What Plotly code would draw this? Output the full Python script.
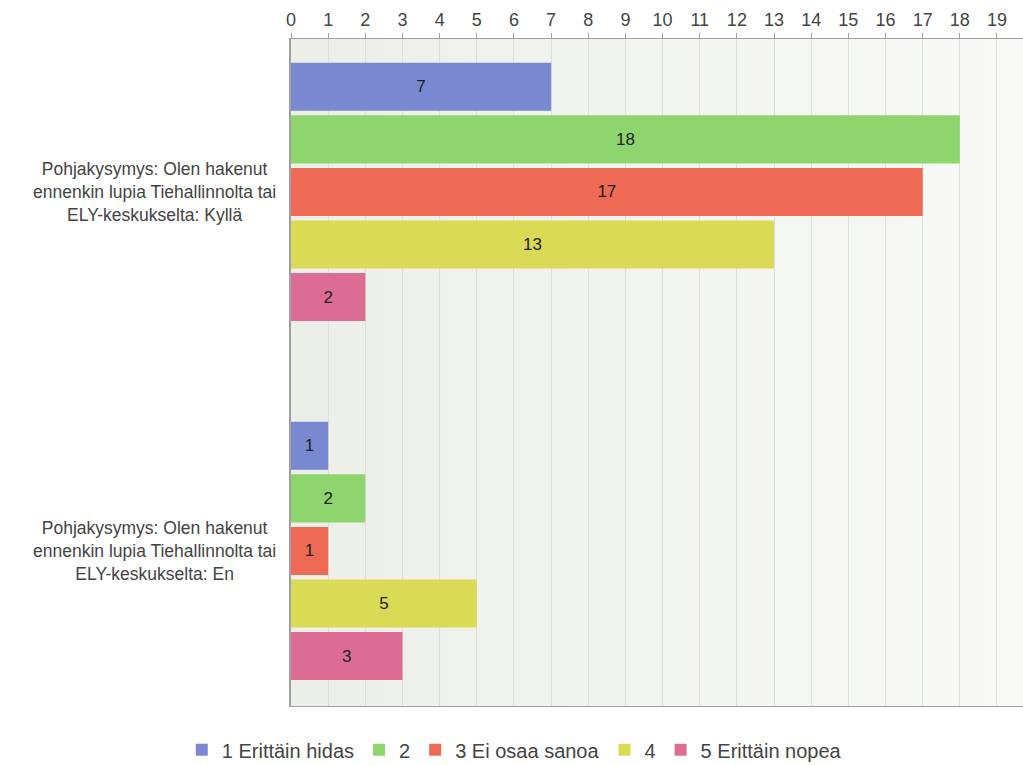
import base64
import struct
import zlib

import plotly.graph_objects as go

categories = [
    "Pohjakysymys: Olen hakenut<br>ennenkin lupia Tiehallinnolta tai<br>ELY-keskukselta: Kyllä",
    "Pohjakysymys: Olen hakenut<br>ennenkin lupia Tiehallinnolta tai<br>ELY-keskukselta: En",
]
series_names = ["1 Erittäin hidas", "2", "3 Ei osaa sanoa", "4", "5 Erittäin nopea"]
series_values = [
    [7, 1],
    [18, 2],
    [17, 1],
    [13, 5],
    [2, 3],
]
series_colors = ["#7889d2", "#8fd56d", "#ee6a55", "#dada55", "#dc6c94"]
tick_values = list(range(0, 20))

FONT = "Liberation Sans, Arial, sans-serif"


def gradient_png(c0, c1, n=128):
    row = b"\x00" + b"".join(
        bytes(int(round(a + (b - a) * i / (n - 1))) for a, b in zip(c0, c1)) for i in range(n)
    )
    def chunk(t, d):
        return struct.pack(">I", len(d)) + t + d + struct.pack(">I", zlib.crc32(t + d) & 0xffffffff)
    png = b"\x89PNG\r\n\x1a\n" + chunk(b"IHDR", struct.pack(">IIBBBBB", n, 1, 8, 2, 0, 0, 0))
    png += chunk(b"IDAT", zlib.compress(row)) + chunk(b"IEND", b"")
    return "data:image/png;base64," + base64.b64encode(png).decode()


fig = go.Figure()
for name, vals, col in zip(series_names, series_values, series_colors):
    fig.add_trace(go.Bar(
        y=categories, x=vals, name=name, orientation="h",
        marker=dict(color=col, line=dict(width=0)),
        text=[str(v) for v in vals], textposition="inside",
        insidetextanchor="middle", textangle=0,
        textfont=dict(family=FONT, size=17, color="#222222"),
        hoverinfo="x+name",
    ))

for cat in categories:
    fig.add_annotation(
        x=0, xref="paper", y=cat, yref="y", text=cat, showarrow=False,
        xanchor="right", yanchor="middle", align="center", xshift=-13,
        font=dict(family=FONT, size=17.5, color="#444444"),
    )

fig.add_layout_image(
    source=gradient_png((236, 239, 232), (248, 249, 246)),
    xref="paper", yref="paper", x=0, y=1, sizex=1, sizey=1,
    xanchor="left", yanchor="top", sizing="stretch", layer="below",
)

fig.update_layout(
    width=1023, height=765,
    margin=dict(l=291, r=0, t=39, b=59, autoexpand=False),
    paper_bgcolor="white", plot_bgcolor="rgba(0,0,0,0)",
    barmode="group", bargap=0.268, bargroupgap=0.086,
    font=dict(family=FONT, size=16, color="#444444"),
    uniformtext=dict(mode="show", minsize=17),
    legend=dict(orientation="h", x=0.305, xanchor="center",
                yref="container", y=0.02, yanchor="middle",
                font=dict(family=FONT, size=20, color="#444444"),
                itemwidth=30, tracegroupgap=0),
    showlegend=True,
)
fig.update_xaxes(
    side="top", range=[0, 19.7], tickvals=tick_values,
    showgrid=True, gridcolor="#dddddd", gridwidth=1,
    showline=True, linecolor="#a0a0a0", linewidth=1, mirror=True,
    ticks="outside", ticklen=5, tickcolor="#a0a0a0",
    tickfont=dict(family=FONT, size=18, color="#444444"),
    zeroline=False, fixedrange=True,
)
fig.update_yaxes(
    categoryorder="array", categoryarray=categories,
    range=[1.432, -0.426],
    showline=True, linecolor="#a0a0a0", linewidth=2,
    ticks="", showgrid=False, showticklabels=False,
    fixedrange=True,
)

fig.write_html("out.html")
